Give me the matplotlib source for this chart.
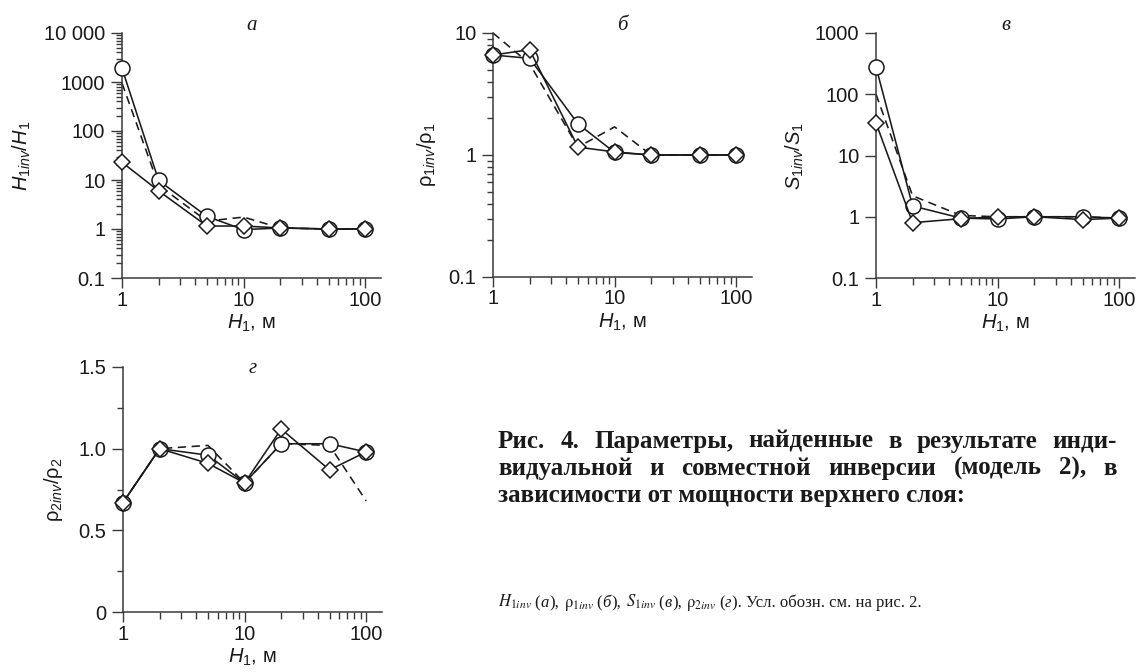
import matplotlib
matplotlib.use('Agg')
import matplotlib.pyplot as plt
from matplotlib.ticker import (FixedLocator, FixedFormatter, LogLocator,
                               NullLocator, NullFormatter, MultipleLocator)
from matplotlib.transforms import IdentityTransform

plt.rcParams['font.family'] = ['Liberation Sans', 'DejaVu Sans']
plt.rcParams['mathtext.fontset'] = 'custom'
plt.rcParams['mathtext.rm'] = 'Liberation Sans'
plt.rcParams['mathtext.it'] = 'Liberation Sans:italic'
plt.rcParams['mathtext.bf'] = 'Liberation Sans:bold'
plt.rcParams['lines.scale_dashes'] = False

# ---------------- data ----------------
H1 = [1, 2, 5, 10, 20, 50, 100]
x_ticks = [1, 10, 100]
x_ticklabels = ['1', '10', '100']

# panel a: H1inv/H1
a_circ = [1900, 9.8, 1.8, 0.97, 1.05, 1.0, 1.0]
a_diam = [23, 6.0, 1.15, 1.15, 1.05, 1.0, 1.0]
a_dash = [950, 7.8, 1.45, 1.75, 1.05, 1.0, 1.0]
a_yticks = [0.1, 1, 10, 100, 1000, 10000]
a_yticklabels = ['0.1', '1', '10', '100', '1000', '10 000']

# panel б: rho1inv/rho1
b_circ = [6.6, 6.2, 1.8, 1.05, 1.0, 1.0, 1.0]
b_diam = [6.6, 7.3, 1.16, 1.06, 1.0, 1.0, 1.0]
b_dash = [10, 5.6, 1.16, 1.7, 1.0, 1.0, 1.0]
b_yticks = [0.1, 1, 10]
b_yticklabels = ['0.1', '1', '10']

# panel в: S1inv/S1
c_circ = [280, 1.5, 0.95, 0.92, 1.0, 1.0, 0.95]
c_diam = [34, 0.8, 0.93, 1.0, 1.0, 0.9, 0.95]
c_dash = [100, 2.2, 1.05, 1.0, 1.0, 1.0, 0.95]
c_yticks = [0.1, 1, 10, 100, 1000]
c_yticklabels = ['0.1', '1', '10', '100', '1000']

# panel г: rho2inv/rho2
d_circ = [0.67, 1.0, 0.96, 0.79, 1.03, 1.03, 0.98]
d_diam = [0.67, 1.0, 0.91, 0.79, 1.12, 0.87, 0.98]
d_dash = [0.67, 1.0, 1.02, 0.79, 1.03, 1.02, 0.68]
d_yticks = [0, 0.5, 1.0, 1.5]
d_yticklabels = ['0', '0.5', '1.0', '1.5']

titles = ['а', 'б', 'в', 'г']
ylabels = [r'$H_{1inv}/H_{1}$',
           r'$\mathrm{\rho}_{1inv}/\mathrm{\rho}_{1}$',
           r'$S_{1inv}/S_{1}$',
           r'$\mathrm{\rho}_{2inv}/\mathrm{\rho}_{2}$']
xlabel = r'$H_{1}$, м'

caption_line1 = 'Рис. 4. Параметры, найденные в результате инди-'
caption_line2 = 'видуальной и совместной инверсии (модель 2), в'
caption_line3 = 'зависимости от мощности верхнего слоя:'

# ---------------- figure ----------------
W, H = 1139, 672
fig = plt.figure(figsize=(W / 100, H / 100), dpi=100)

def pix_axes(left, top, bottom, width=259):
    return fig.add_axes([left / W, (H - bottom) / H, width / W, (bottom - top) / H])

INK = '#1a1a1a'
SPINE = '#3a3a3a'

panels = [
    dict(ax=pix_axes(122, 33, 278), circ=a_circ, diam=a_diam, dash=a_dash,
         yt=a_yticks, ytl=a_yticklabels, ylim=(0.1, 10000), log=True, minor='dense',
         ylx=-0.343, title_y=1.012),
    dict(ax=pix_axes(493, 33, 277), circ=b_circ, diam=b_diam, dash=b_dash,
         yt=b_yticks, ytl=b_yticklabels, ylim=(0.1, 10), log=True, minor='dense',
         ylx=-0.214, title_y=1.012),
    dict(ax=pix_axes(876, 33, 278), circ=c_circ, diam=c_diam, dash=c_dash,
         yt=c_yticks, ytl=c_yticklabels, ylim=(0.1, 1000), log=True, minor=None,
         ylx=-0.272, title_y=1.012),
    dict(ax=pix_axes(123, 367, 612), circ=d_circ, diam=d_diam, dash=d_dash,
         yt=d_yticks, ytl=d_yticklabels, ylim=(0, 1.5), log=False, minor='lin',
         ylx=-0.224, title_y=0.975),
]

for p, title, ylab in zip(panels, titles, ylabels):
    ax = p['ax']
    ax.set_xscale('log')
    if p['log']:
        ax.set_yscale('log')
    ax.set_xlim(1, 135)
    ax.set_ylim(*p['ylim'])

    ax.plot(H1, p['dash'], color=INK, lw=1.15, ls=(0, (6, 4)), zorder=2, clip_on=False)
    ax.plot(H1, p['circ'], color=INK, lw=1.15, marker='o', ms=10.8, mfc='white',
            mec=INK, mew=1.1, zorder=3, clip_on=False)
    ax.plot(H1, p['diam'], color=INK, lw=1.15, marker='D', ms=7.8, mfc='white',
            mec=INK, mew=1.1, zorder=4, clip_on=False)

    for s in ['top', 'right']:
        ax.spines[s].set_visible(False)
    for s in ['left', 'bottom']:
        ax.spines[s].set_color(SPINE)
        ax.spines[s].set_linewidth(1.1)

    ax.xaxis.set_major_locator(FixedLocator(x_ticks))
    ax.xaxis.set_major_formatter(FixedFormatter(x_ticklabels))
    ax.xaxis.set_minor_locator(LogLocator(base=10, subs=range(2, 10), numticks=20))
    ax.xaxis.set_minor_formatter(NullFormatter())

    ax.yaxis.set_major_locator(FixedLocator(p['yt']))
    ax.yaxis.set_major_formatter(FixedFormatter(p['ytl']))
    if p['minor'] == 'dense':
        ax.yaxis.set_minor_locator(LogLocator(base=10, subs=range(2, 10), numticks=20))
    elif p['minor'] == 'lin':
        ax.yaxis.set_minor_locator(MultipleLocator(0.25))
    else:
        ax.yaxis.set_minor_locator(NullLocator())
    ax.yaxis.set_minor_formatter(NullFormatter())

    ax.tick_params(axis='x', which='major', direction='out', length=7, width=1.0,
                   color=SPINE, labelsize=14.5, pad=2, labelcolor=INK)
    ax.tick_params(axis='x', which='minor', direction='out', length=5, width=1.0,
                   color=SPINE)
    ax.tick_params(axis='y', which='major', direction='out', length=8, width=1.0,
                   color=SPINE, labelsize=14.5, pad=4, labelcolor=INK)
    ax.tick_params(axis='y', which='minor', direction='out', length=4.5, width=1.0,
                   color=SPINE)

    ax.set_ylabel(ylab, fontsize=14.5, color=INK)
    ax.yaxis.set_label_coords(p['ylx'], 0.5)
    ax.set_xlabel(xlabel, fontsize=14.5, color=INK, labelpad=2)

    ax.text(0.5, p['title_y'], title, transform=ax.transAxes, ha='center',
            va='baseline', fontsize=15, family='Liberation Serif', style='italic',
            color=INK)

# ---------------- caption ----------------
r = fig.canvas.get_renderer()
ID = IdentityTransform()

def tw(s, **kw):
    t = fig.text(0, 0, s, transform=ID, **kw)
    w = t.get_window_extent(renderer=r).width
    t.remove()
    return w

bold = dict(family='Liberation Serif', weight='bold', size=18, color=INK)
x_left, x_right = 498, 1117

def justified(line, y_base):
    words = line.split(' ')
    widths = [tw(wd, **bold) for wd in words]
    gap = (x_right - x_left - sum(widths)) / (len(words) - 1)
    x = x_left
    for wd, w in zip(words, widths):
        fig.text(x, H - y_base, wd, transform=ID, ha='left', va='baseline', **bold)
        x += w + gap

justified(caption_line1, 448)
justified(caption_line2, 475)
fig.text(x_left, H - 502, caption_line3, transform=ID, ha='left', va='baseline', **bold)

S = 12
rm = dict(family='Liberation Serif', size=S, color=INK)
it = dict(family='Liberation Serif', size=S, style='italic', color=INK)
mt = dict(family='Liberation Serif', size=S, color=INK, math_fontfamily='stix')
SP = tw('x x', **rm) - tw('xx', **rm)
runs = [
    (r'$H_{1inv}$', mt), 'm', ('(', rm), ('а', it), ('),', rm), 's',
    (r'$\mathrm{\rho}_{1inv}$', mt), 'm', ('(', rm), ('б', it), ('),', rm), 's',
    (r'$S_{1inv}$', mt), 'm', ('(', rm), ('в', it), ('),', rm), 's',
    (r'$\mathrm{\rho}_{2inv}$', mt), 'm', ('(', rm), ('г', it),
    ('). Усл. обозн. см. на рис. 2.', rm),
]
x = x_left
yb = H - 607
for run in runs:
    if run == 's':
        x += SP
        continue
    if run == 'm':
        x += SP * 0.35
        continue
    s, kw = run
    t = fig.text(x, yb, s, transform=ID, ha='left', va='baseline', **kw)
    x += t.get_window_extent(renderer=r).width + 0.6

fig.savefig('out.png', dpi=100, facecolor='white')
